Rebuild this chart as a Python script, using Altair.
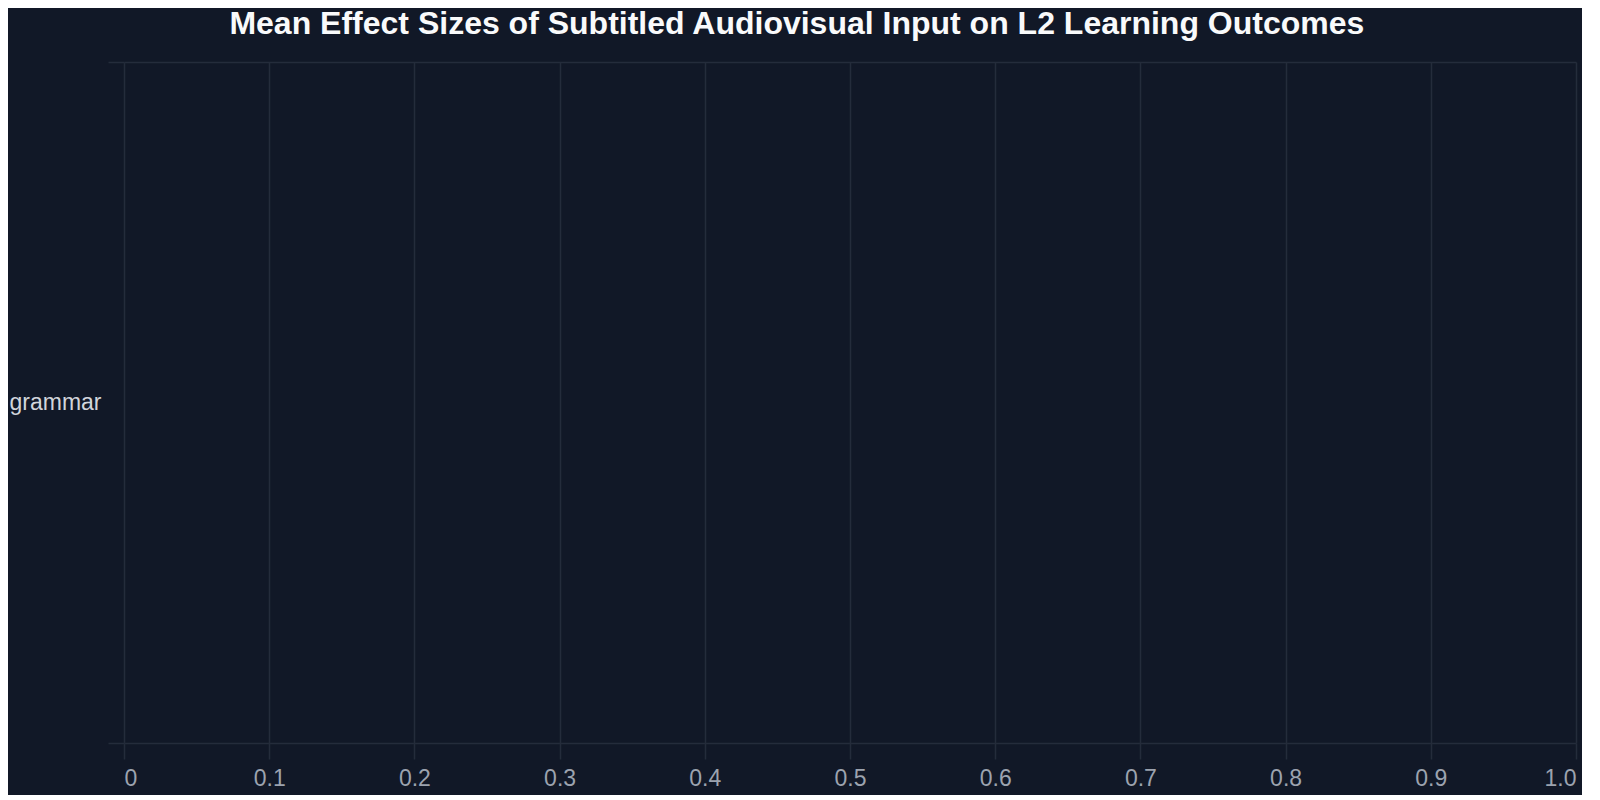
import pandas as pd
import altair as alt

# dados do gráfico
categorias = ["grammar"]
efeito_medio = [0.0]
x_ticks = [0, 0.1, 0.2, 0.3, 0.4, 0.5, 0.6, 0.7, 0.8, 0.9, 1.0]

dados = pd.DataFrame({"outcome": categorias, "effect": efeito_medio})

FONTE = "Liberation Sans, Arial, sans-serif"
FUNDO = "#111827"
GRADE = "#242c3b"

grafico = (
    alt.Chart(
        dados,
        title=alt.Title(
            "Mean Effect Sizes of Subtitled Audiovisual Input on L2 Learning Outcomes",
            fontSize=32,
            font=FONTE,
            fontWeight="bold",
            color="#f9fafb",
            anchor="middle",
            frame="bounds",
            offset=10,
            dx=4,
        ),
    )
    .mark_bar(color="#60a5fa")
    .encode(
        x=alt.X(
            "effect:Q",
            title=None,
            scale=alt.Scale(domain=[0, 1], nice=False, zero=True),
            axis=alt.Axis(
                values=x_ticks,
                labelExpr="datum.value == 0 ? '0' : format(datum.value, '.1f')",
                grid=True,
                gridColor=GRADE,
                gridWidth=1.5,
                domain=False,
                tickColor=GRADE,
                tickWidth=1.5,
                tickSize=16,
                labelColor="#9ca3af",
                labelFontSize=23,
                labelFont=FONTE,
                labelPadding=8,
            ),
        ),
        y=alt.Y(
            "outcome:N",
            title=None,
            scale=alt.Scale(padding=0),
            axis=alt.Axis(
                tickBand="extent",
                grid=True,
                gridColor=GRADE,
                gridWidth=1.5,
                domain=False,
                tickColor=GRADE,
                tickWidth=1.5,
                tickSize=16,
                labelColor="#d1d5db",
                labelFontSize=23,
                labelFont=FONTE,
                labelPadding=7,
            ),
        ),
        tooltip=["outcome:N", "effect:Q"],
    )
    .properties(
        width=1452,
        height=681,
        background=FUNDO,
        padding={"left": 0, "top": 0, "right": 5, "bottom": 5},
    )
    .configure_view(strokeWidth=0)
)

grafico.save("out.html", embed_options={"renderer": "svg", "actions": False})
